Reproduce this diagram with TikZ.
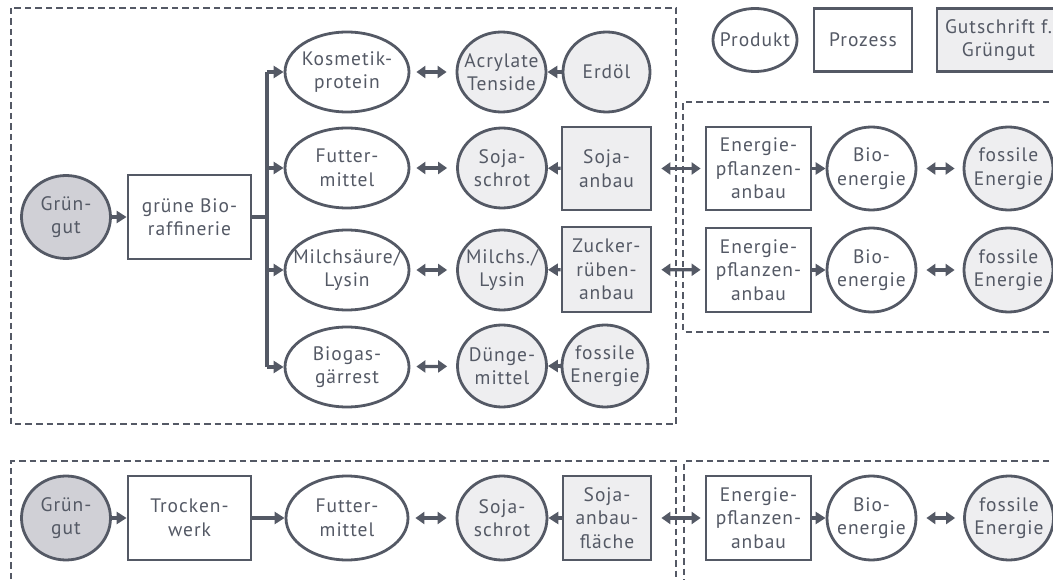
\documentclass[tikz,border=0pt]{standalone}
\usepackage{fontspec}
\setmainfont[LetterSpace=5]{PT Sans}
\usetikzlibrary{arrows.meta,shapes.geometric}
\definecolor{ln}{RGB}{84,89,101}
\definecolor{lg}{RGB}{238,238,240}
\definecolor{dg}{RGB}{208,208,214}
\begin{document}
\begin{tikzpicture}[x=1pt,y=-1pt,
  every node/.style={font=\fontsize{19.5}{23.5}\selectfont, text=ln, align=center, inner sep=0pt, line width=2.8pt, draw=ln},
  ell/.style={ellipse, fill=white, inner sep=-20pt},
  ellg/.style={ellipse, fill=lg, inner sep=-20pt},
  gg/.style={ellipse, fill=dg, inner sep=-20pt},
  box/.style={rectangle, fill=white},
  boxg/.style={rectangle, fill=lg},
  conn/.style={draw=ln, line width=3.2pt},
  arr/.style={conn, -{Triangle[length=10pt,width=12pt]}},
  dbl/.style={conn, {Triangle[length=9pt,width=12pt]}-{Triangle[length=9pt,width=12pt]}},
  dsh/.style={draw=ln, line width=1.8pt, dash pattern=on 6.5pt off 4pt}
]
\useasboundingbox (0,0) rectangle (1053,580);
\clip (0,0) rectangle (1053,580);
% dashed frames
\draw[dsh] (11,8) rectangle (676,424);
\draw[dsh] (1070,102) -- (683,102) -- (683,332) -- (1070,332);
\draw[dsh] (11,600) -- (11,461) -- (676,461) -- (676,600);
\draw[dsh] (1070,461) -- (684,461) -- (684,600);

% legend
\node[ell, minimum width=84pt, minimum height=63pt] (lp) at (755,40) {Produkt};
\node[box, minimum width=98pt, minimum height=63pt] (lz) at (863,40) {Prozess};
\node[boxg, minimum width=123pt, minimum height=63pt] (lg) at (998.5,40) {Gutschrift f.\\Grüngut};

% top block
\node[gg, minimum width=89pt, minimum height=83pt] (g1) at (66,217) {Grün-\\gut};
\node[box, minimum width=123pt, minimum height=84pt] (raf) at (189.5,217) {grüne Bio-\\raffinerie};
\coordinate (br) at (267,217);

\node[ell, minimum width=124pt, minimum height=80pt] (kos) at (347,72) {Kosmetik-\\protein};
\node[ellg, minimum width=89pt, minimum height=80pt] (acr) at (501.5,72) {Acrylate\\Tenside};
\node[ellg, minimum width=87pt, minimum height=80pt] (erd) at (606.5,72) {Erdöl};

\node[ell, minimum width=124pt, minimum height=80pt] (fut) at (347,168) {Futter-\\mittel};
\node[ellg, minimum width=89pt, minimum height=80pt] (soj) at (502,168) {Soja-\\schrot};
\node[boxg, minimum width=89pt, minimum height=83pt] (sanb) at (606.5,168.5) {Soja-\\anbau};

\node[ell, minimum width=124pt, minimum height=80pt] (mil) at (347,270) {Milchsäure/\\Lysin};
\node[ellg, minimum width=89pt, minimum height=80pt] (mis) at (502,270) {Milchs./\\Lysin};
\node[boxg, minimum width=89pt, minimum height=85pt] (zuc) at (606.5,269.5) {Zucker-\\rüben-\\anbau};

\node[ell, minimum width=124pt, minimum height=80pt] (bgs) at (347,367) {Biogas-\\gärrest};
\node[ellg, minimum width=89pt, minimum height=82pt] (dng) at (502,366) {Dünge-\\mittel};
\node[ellg, minimum width=86pt, minimum height=82pt] (fos0) at (605,366) {fossile\\Energie};

% right block
\node[box, minimum width=105pt, minimum height=83pt] (en1) at (758.5,168.5) {Energie-\\pflanzen-\\anbau};
\node[ell, minimum width=89pt, minimum height=83pt] (bio1) at (871.5,168.5) {Bio-\\energie};
\node[ellg, minimum width=89pt, minimum height=83pt] (fos1) at (1008.5,168.5) {fossile\\Energie};

\node[box, minimum width=105pt, minimum height=84pt] (en2) at (758.5,270) {Energie-\\pflanzen-\\anbau};
\node[ell, minimum width=89pt, minimum height=84pt] (bio2) at (871.5,270) {Bio-\\energie};
\node[ellg, minimum width=89pt, minimum height=84pt] (fos2) at (1008.5,270) {fossile\\Energie};

% bottom block
\node[gg, minimum width=89pt, minimum height=84pt] (g2) at (66,518) {Grün-\\gut};
\node[box, minimum width=123pt, minimum height=84pt] (trk) at (189.5,518) {Trocken-\\werk};
\node[ell, minimum width=122pt, minimum height=84pt] (fut2) at (347,518) {Futter-\\mittel};
\node[ellg, minimum width=90pt, minimum height=84pt] (soj2) at (502,518) {Soja-\\schrot};
\node[boxg, minimum width=88pt, minimum height=84pt] (saf) at (607,518) {Soja-\\anbau-\\fläche};
\node[box, minimum width=105pt, minimum height=84pt] (en3) at (758.5,518) {Energie-\\pflanzen-\\anbau};
\node[ell, minimum width=89pt, minimum height=84pt] (bio3) at (871.5,518) {Bio-\\energie};
\node[ellg, minimum width=89pt, minimum height=84pt] (fos3) at (1009,518) {fossile\\Energie};

% connectors top
\draw[arr] (g1) -- (raf);
\draw[conn] (raf.east) -- (br);
\draw[conn] (br |- kos.west) -- (br |- bgs.west);
\draw[arr] (br |- kos.west) -- (kos.west);
\draw[arr] (br |- fut.west) -- (fut.west);
\draw[arr] (br |- mil.west) -- (mil.west);
\draw[arr] (br |- bgs.west) -- (bgs.west);

\draw[dbl, shorten <=6pt, shorten >=9pt] (kos) -- (acr);
\draw[arr] (erd) -- (acr);
\draw[dbl, shorten <=6pt, shorten >=9pt] (fut) -- (soj);
\draw[arr] (sanb) -- (soj);
\draw[dbl, shorten <=6pt, shorten >=9pt] (mil) -- (mis);
\draw[arr] (zuc) -- (mis);
\draw[dbl, shorten <=6pt, shorten >=9pt] (bgs) -- (dng);
\draw[arr] (fos0) -- (dng);

\draw[dbl, shorten <=9pt, shorten >=4pt] (sanb) -- (en1);
\draw[arr] (en1) -- (bio1);
\draw[dbl, shorten <=9pt, shorten >=8pt] (bio1) -- (fos1);
\draw[dbl, shorten <=9pt, shorten >=4pt] (zuc) -- (en2);
\draw[arr] (en2) -- (bio2);
\draw[dbl, shorten <=9pt, shorten >=8pt] (bio2) -- (fos2);

% connectors bottom
\draw[arr] (g2) -- (trk);
\draw[arr] (trk) -- (fut2);
\draw[dbl, shorten <=6pt, shorten >=9pt] (fut2) -- (soj2);
\draw[arr] (saf) -- (soj2);
\draw[dbl, shorten <=9pt, shorten >=4pt] (saf) -- (en3);
\draw[arr] (en3) -- (bio3);
\draw[dbl, shorten <=9pt, shorten >=8pt] (bio3) -- (fos3);
\end{tikzpicture}
\end{document}
